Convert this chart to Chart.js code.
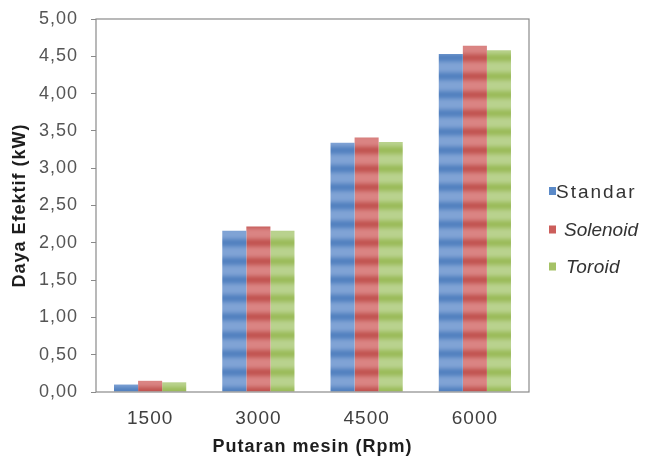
<!DOCTYPE html>
<html><head><meta charset="utf-8">
<script src="https://cdn.jsdelivr.net/npm/chart.js@4/dist/chart.umd.min.js"></script>
<style>html,body{margin:0;padding:0;background:#fff}#wrap{width:647px;height:462px;position:relative}</style>
</head><body><div id="wrap"><canvas id="c" width="647" height="462"></canvas></div>
<script>
const categories = ['1500', '3000', '4500', '6000'];
const seriesNames = ['Standar', 'Solenoid', 'Toroid'];
const standar = [0.10, 2.16, 3.34, 4.53];
const solenoid = [0.15, 2.22, 3.41, 4.64];
const toroid = [0.13, 2.16, 3.35, 4.58];
const yTicks = [0, 0.5, 1, 1.5, 2, 2.5, 3, 3.5, 4, 4.5, 5];

const FONT = "'Liberation Sans', Arial, sans-serif";
const canvas = document.getElementById('c');
const ctx0 = canvas.getContext('2d');

function mix(a, b, t) {
  return 'rgb(' + a.map((v, i) => Math.round(v + (b[i] - v) * t)).join(',') + ')';
}
function stripe(light, dark) {
  const c = document.createElement('canvas');
  c.width = 4; c.height = 37;
  const g = c.getContext('2d');
  for (let y = 0; y < 37; y++) {
    const ph = ((y + 0.5 - 2.3) / 18.5) * 2 * Math.PI;
    let t = (1 + Math.cos(ph)) / 2;
    t = Math.pow(t, 1.5);
    g.fillStyle = mix(light, dark, t);
    g.fillRect(0, y, 4, 1);
  }
  return ctx0.createPattern(c, 'repeat');
}
const palette = [
  { light: [128, 163, 213], dark: [84, 130, 192], flat: '#5b8ac8' },
  { light: [218, 132, 131], dark: [194, 86, 83], flat: '#cc5e5b' },
  { light: [185, 210, 142], dark: [156, 188, 92], flat: '#a5c266' }
];
const values = [standar, solenoid, toroid];

const spacing = {
  id: 'spacing',
  beforeInit(c) { c.ctx.letterSpacing = '1px'; },
  beforeUpdate(c) { c.ctx.letterSpacing = '1px'; },
  beforeDraw(c) { c.ctx.letterSpacing = '1px'; }
};

const frame = {
  id: 'frame',
  afterDatasetsDraw(c) {
    const { ctx, chartArea: a } = c;
    ctx.save();
    ctx.strokeStyle = '#8a8a8a';
    ctx.lineWidth = 1.2;
    ctx.strokeRect(a.left, a.top, a.right - a.left, a.bottom - a.top);
    ctx.restore();
  }
};

const legendPlugin = {
  id: 'customLegend',
  afterDraw(c) {
    const ctx = c.ctx;
    const items = [
      { y: 197.5, x: 556, italic: false, ls: '2px' },
      { y: 236, x: 564, italic: true, ls: '0px' },
      { y: 273, x: 566, italic: true, ls: '0.3px' }
    ];
    ctx.save();
    c.data.datasets.forEach((ds, i) => {
      const it = items[i];
      ctx.fillStyle = palette[i].flat;
      ctx.fillRect(549, it.y - 10.5, 7, 8);
      ctx.letterSpacing = it.ls;
      ctx.font = (it.italic ? 'italic ' : '') + '19px ' + FONT;
      ctx.fillStyle = '#333333';
      ctx.textBaseline = 'alphabetic';
      ctx.textAlign = 'left';
      ctx.fillText(ds.label, it.x, it.y);
    });
    ctx.restore();
  }
};

new Chart(canvas, {
  type: 'bar',
  data: {
    labels: categories,
    datasets: seriesNames.map((name, i) => ({
      label: name,
      data: values[i],
      backgroundColor: stripe(palette[i].light, palette[i].dark),
      borderWidth: 0,
      categoryPercentage: 0.667,
      barPercentage: 1.0
    }))
  },
  options: {
    responsive: false,
    animation: false,
    devicePixelRatio: 1,
    layout: { padding: { left: 9, right: 118, top: 19, bottom: 4 } },
    plugins: { legend: { display: false }, tooltip: { enabled: false } },
    scales: {
      x: {
        grid: { display: false, drawTicks: false },
        border: { display: false },
        ticks: { font: { family: FONT, size: 19 }, color: '#404040', padding: 15 },
        title: { display: true, text: 'Putaran mesin (Rpm)', font: { family: FONT, size: 18, weight: 'bold' }, color: '#1e1e1e', padding: 0 },
        afterFit(s) { s.height = 66; s.paddingLeft = 0; s.paddingRight = 0; }
      },
      y: {
        min: 0, max: 5,
        afterBuildTicks(s) { s.ticks = yTicks.map(v => ({ value: v })); },
        grid: { drawOnChartArea: false, drawTicks: true, tickLength: 5, color: '#8a8a8a' },
        border: { display: false },
        ticks: {
          font: { family: FONT, size: 18 }, color: '#555555', padding: 13,
          callback: v => v.toFixed(2).replace('.', ',')
        },
        title: { display: true, text: 'Daya Efektif (kW)', font: { family: FONT, size: 18, weight: 'bold' }, color: '#1e1e1e', padding: 0 },
        afterFit(s) { s.width = 87; s.paddingTop = 0; s.paddingBottom = 0; }
      }
    }
  },
  plugins: [spacing, frame, legendPlugin]
});
</script>
</body></html>
